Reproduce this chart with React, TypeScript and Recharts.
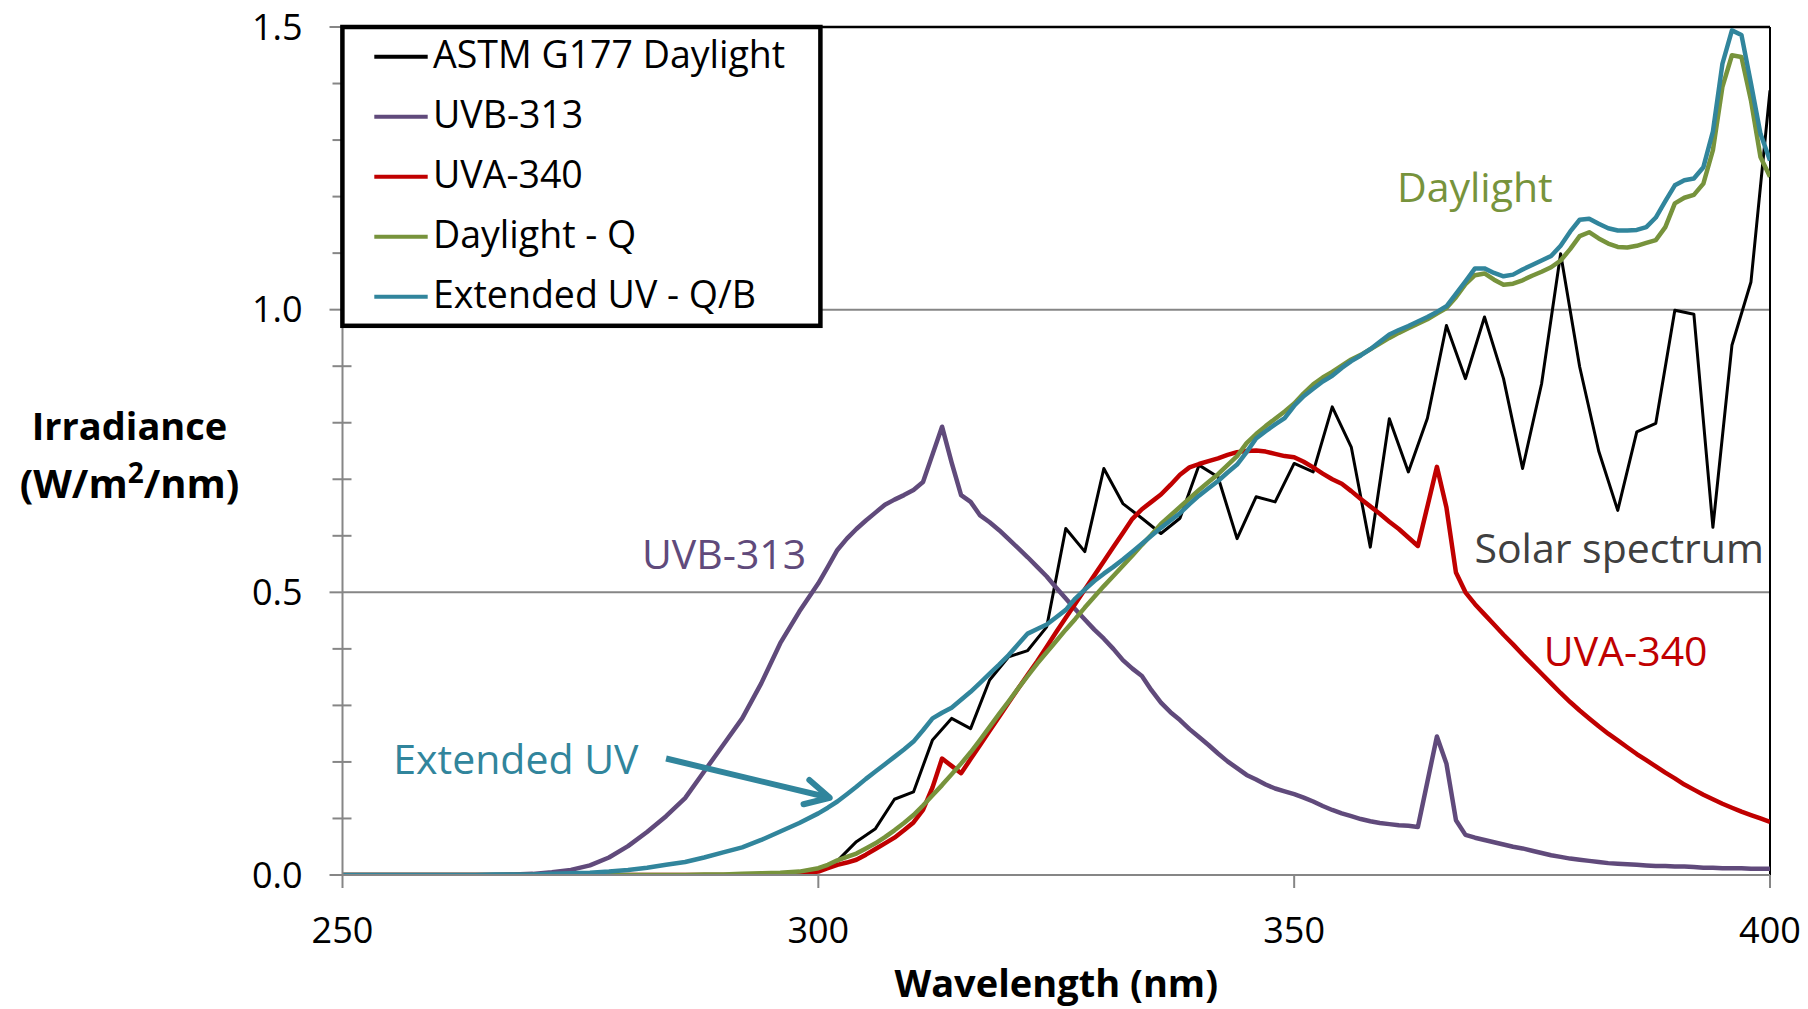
import React from 'react';
import { LineChart, Line, XAxis, YAxis, ReferenceLine, ReferenceDot, Legend, Label } from 'recharts';

const FONT = "'Open Sans', 'DejaVu Sans', sans-serif";
const AXIS_GRAY = '#868686';

// ---------- data ----------
const solarNm = [
  250, 252, 254, 256, 258, 260, 262, 264, 266, 268, 270, 272, 274, 276, 278, 280, 282, 284, 286, 288, 290, 292,
  294, 296, 298, 300, 302, 304, 306, 308, 310, 312, 314, 316, 318, 320, 322, 324, 326, 328, 330, 332, 334, 336,
  338, 340, 342, 344, 346, 348, 350, 352, 354, 356, 358, 360, 362, 364, 366, 368, 370, 372, 374, 376, 378, 380,
  382, 384, 386, 388, 390, 392, 394, 396, 398, 400,
];
const astmG177 = [
  0, 0, 0, 0, 0, 0, 0, 0, 0, 0, 0, 0, 0, 0, 0, 0, 0, 0, 0, 0, 0, 0,
  0, 0.001, 0.004, 0.010, 0.025, 0.059, 0.082, 0.134, 0.147, 0.239, 0.277, 0.259, 0.345, 0.386, 0.397, 0.439,
  0.613, 0.572, 0.719, 0.657, 0.631, 0.604, 0.631, 0.725, 0.704, 0.595, 0.669, 0.660, 0.728, 0.713, 0.828, 0.757,
  0.580, 0.807, 0.713, 0.808, 0.972, 0.878, 0.987, 0.878, 0.719, 0.869, 1.099, 0.899, 0.750, 0.645, 0.784, 0.799,
  0.999, 0.992, 0.615, 0.937, 1.049, 1.388,
];

const lampNm = [
  250, 252, 254, 256, 258, 260, 262, 264, 266, 268, 270, 272, 274, 276, 278, 280, 282, 284, 286, 288, 290, 292, 294, 296, 298, 300,
  301, 302, 303, 304, 305, 306, 307, 308, 309, 310,
  311, 312, 313, 314, 315, 316, 317, 318, 319, 320,
  321, 322, 323, 324, 325, 326, 327, 328, 329, 330,
  331, 332, 333, 334, 335, 336, 337, 338, 339, 340,
  341, 342, 343, 344, 345, 346, 347, 348, 349, 350,
  351, 352, 353, 354, 355, 356, 357, 358, 359, 360,
  361, 362, 363, 364, 365, 366, 367, 368, 369, 370,
  371, 372, 373, 374, 375, 376, 377, 378, 379, 380,
  381, 382, 383, 384, 385, 386, 387, 388, 389, 390,
  391, 392, 393, 394, 395, 396, 397, 398, 399, 400,
];
const uvb313 = [
  0, 0, 0, 0, 0, 0, 0, 0, 0, 0.001, 0.002, 0.005, 0.009, 0.017, 0.031, 0.051, 0.076, 0.104, 0.136, 0.183, 0.230, 0.277, 0.339, 0.410, 0.466, 0.516,
  0.545, 0.575, 0.595, 0.612, 0.627, 0.641, 0.655, 0.664, 0.672, 0.681,
  0.695, 0.744, 0.793, 0.730, 0.672, 0.660, 0.636, 0.624, 0.610, 0.594,
  0.578, 0.562, 0.545, 0.528, 0.508, 0.489, 0.470, 0.452, 0.434, 0.418,
  0.400, 0.380, 0.365, 0.352, 0.327, 0.305, 0.288, 0.274, 0.258, 0.244,
  0.230, 0.215, 0.201, 0.189, 0.177, 0.169, 0.160, 0.153, 0.148, 0.143,
  0.137, 0.130, 0.122, 0.115, 0.109, 0.104, 0.099, 0.095, 0.092, 0.090,
  0.088, 0.087, 0.085, 0.165, 0.245, 0.197, 0.097, 0.071, 0.066, 0.062,
  0.058, 0.054, 0.050, 0.047, 0.043, 0.039, 0.035, 0.032, 0.029, 0.027,
  0.025, 0.023, 0.021, 0.020, 0.019, 0.018, 0.017, 0.016, 0.016, 0.015,
  0.015, 0.014, 0.013, 0.013, 0.012, 0.012, 0.012, 0.011, 0.011, 0.011,
];
const uva340 = [
  0, 0, 0, 0, 0, 0, 0, 0, 0, 0, 0, 0, 0, 0, 0, 0, 0, 0, 0, 0, 0, 0, 0, 0, 0.002, 0.006,
  0.012, 0.018, 0.022, 0.027, 0.036, 0.046, 0.056, 0.066, 0.079, 0.093,
  0.115, 0.155, 0.206, 0.193, 0.180, 0.205, 0.230, 0.255, 0.280, 0.305,
  0.330, 0.354, 0.378, 0.404, 0.430, 0.455, 0.480, 0.505, 0.530, 0.555,
  0.580, 0.605, 0.630, 0.647, 0.660, 0.673, 0.690, 0.708, 0.721, 0.727,
  0.732, 0.737, 0.743, 0.748, 0.750, 0.751, 0.749, 0.745, 0.741, 0.739,
  0.731, 0.721, 0.710, 0.700, 0.692, 0.679, 0.665, 0.652, 0.639, 0.625,
  0.612, 0.597, 0.582, 0.652, 0.722, 0.650, 0.535, 0.500, 0.479, 0.461,
  0.443, 0.425, 0.408, 0.390, 0.373, 0.356, 0.339, 0.322, 0.306, 0.291,
  0.277, 0.263, 0.250, 0.238, 0.226, 0.214, 0.203, 0.192, 0.181, 0.171,
  0.160, 0.151, 0.142, 0.134, 0.126, 0.119, 0.112, 0.106, 0.100, 0.094,
];
const daylightQ = [
  0, 0, 0, 0, 0, 0, 0, 0, 0, 0, 0, 0, 0, 0, 0, 0, 0, 0, 0, 0.001, 0.001, 0.002, 0.003, 0.004, 0.006, 0.012,
  0.018, 0.026, 0.032, 0.038, 0.047, 0.056, 0.067, 0.079, 0.092, 0.106,
  0.123, 0.141, 0.159, 0.178, 0.197, 0.217, 0.239, 0.262, 0.285, 0.307,
  0.330, 0.352, 0.374, 0.394, 0.414, 0.434, 0.453, 0.473, 0.492, 0.511,
  0.529, 0.547, 0.565, 0.584, 0.602, 0.621, 0.636, 0.651, 0.666, 0.681,
  0.695, 0.709, 0.725, 0.741, 0.764, 0.780, 0.794, 0.807, 0.820, 0.834,
  0.852, 0.868, 0.880, 0.890, 0.901, 0.912, 0.920, 0.930, 0.940, 0.950,
  0.959, 0.967, 0.975, 0.983, 0.993, 1.003, 1.022, 1.045, 1.061, 1.064,
  1.053, 1.044, 1.046, 1.052, 1.060, 1.067, 1.075, 1.087, 1.107, 1.130,
  1.137, 1.126, 1.117, 1.111, 1.110, 1.113, 1.118, 1.123, 1.146, 1.188,
  1.198, 1.203, 1.223, 1.282, 1.394, 1.450, 1.447, 1.370, 1.270, 1.235,
];
const extendedUV = [
  0, 0, 0, 0, 0, 0, 0, 0, 0.001, 0.001, 0.001, 0.002, 0.003, 0.004, 0.006, 0.009, 0.013, 0.018, 0.023, 0.031, 0.040, 0.049, 0.062, 0.077, 0.092, 0.109,
  0.119, 0.130, 0.143, 0.156, 0.170, 0.183, 0.196, 0.209, 0.222, 0.236,
  0.256, 0.277, 0.287, 0.296, 0.310, 0.324, 0.340, 0.356, 0.372, 0.389,
  0.408, 0.427, 0.435, 0.443, 0.456, 0.469, 0.489, 0.505, 0.520, 0.533,
  0.545, 0.558, 0.572, 0.586, 0.600, 0.614, 0.627, 0.640, 0.656, 0.671,
  0.684, 0.697, 0.712, 0.726, 0.748, 0.772, 0.785, 0.797, 0.808, 0.830,
  0.847, 0.860, 0.873, 0.883, 0.897, 0.909, 0.919, 0.930, 0.943, 0.956,
  0.964, 0.971, 0.979, 0.987, 0.996, 1.006, 1.028, 1.050, 1.073, 1.073,
  1.065, 1.059, 1.062, 1.071, 1.079, 1.087, 1.095, 1.113, 1.138, 1.159,
  1.161, 1.152, 1.144, 1.140, 1.140, 1.141, 1.146, 1.163, 1.192, 1.220,
  1.229, 1.232, 1.252, 1.315, 1.435, 1.494, 1.486, 1.400, 1.311, 1.264,
];

const xTicks = [250, 300, 350, 400];
const yTicks = [0, 0.1, 0.2, 0.3, 0.4, 0.5, 0.6, 0.7, 0.8, 0.9, 1.0, 1.1, 1.2, 1.3, 1.4, 1.5];
const gridValues = [0.5, 1.0];

const seriesNames = ['ASTM G177 Daylight', 'UVB-313', 'UVA-340', 'Daylight - Q', 'Extended UV - Q/B'];
const seriesColors = ['#000000', '#604A7B', '#C00000', '#77933C', '#31859C'];
const seriesWidths = [3, 4.5, 4.5, 4.5, 4.5];

const annotations = [
  { text: 'Daylight', nm: 360.8, v: 1.19, color: '#77933C' },
  { text: 'Solar spectrum', nm: 368.94, v: 0.552, color: '#404040' },
  { text: 'UVA-340', nm: 376.23, v: 0.3695, color: '#C00000' },
  { text: 'UVB-313', nm: 281.46, v: 0.542, color: '#604A7B' },
  { text: 'Extended UV', nm: 255.34, v: 0.1786, color: '#31859C' },
];
const arrowFrom = { x: 284.0, y: 0.206 };
const arrowTo = { x: 301.2, y: 0.1367 };

// ---------- tables ----------
const solarData = solarNm.map((nm, i) => ({ nm, v: astmG177[i] }));
const lampData = lampNm.map((nm, i) => ({
  nm,
  uvb: uvb313[i],
  uva: uva340[i],
  day: daylightQ[i],
  ext: extendedUV[i],
}));

// ---------- axis pieces ----------
const Y_TICK_SIZE = 13;
const Y_TICK_MARGIN = 27;

const YTick = (props: any) => {
  const { x, y, payload } = props;
  const v = Number(payload.value);
  const major = Math.abs(v * 2 - Math.round(v * 2)) < 1e-6;
  const ax = x + Y_TICK_SIZE + Y_TICK_MARGIN;
  return (
    <g>
      {major ? (
        <line x1={ax - 13} x2={ax} y1={y} y2={y} stroke={AXIS_GRAY} strokeWidth={2} />
      ) : (
        <line x1={ax - 10} x2={ax + 9} y1={y} y2={y} stroke={AXIS_GRAY} strokeWidth={2} />
      )}
      {major && (
        <text x={x} y={y + 12.5} textAnchor="end" fontSize={36} fontFamily={FONT} fill="#000">
          {v.toFixed(1)}
        </text>
      )}
    </g>
  );
};

const XTick = (props: any) => {
  const { x, y, payload } = props;
  return (
    <g>
      <line x1={x} x2={x} y1={y - 13} y2={y} stroke={AXIS_GRAY} strokeWidth={2} />
      <text x={x} y={y + 55} textAnchor="middle" fontSize={36} fontFamily={FONT} fill="#000">
        {payload.value}
      </text>
    </g>
  );
};

const YTitle = (props: any) => {
  const vb = props.viewBox || { x: 0, y: 27, width: 342, height: 848 };
  const cx = vb.x + 129.5;
  const cy = vb.y + vb.height / 2;
  return (
    <g fontFamily={FONT} fontWeight={700} fill="#000">
      <text x={cx} y={cy - 11} textAnchor="middle" fontSize={38}>Irradiance</text>
      <text x={cx} y={cy + 47} textAnchor="middle" fontSize={40}>
        (W/m<tspan dy={-15} fontSize={28}>2</tspan>
        <tspan dy={15}>/nm)</tspan>
      </text>
    </g>
  );
};

const XTitle = (props: any) => {
  const vb = props.viewBox || { x: 342, y: 875, width: 1428, height: 134 };
  return (
    <text
      x={vb.x + vb.width / 2}
      y={vb.y + 122}
      textAnchor="middle"
      fontFamily={FONT}
      fontWeight={700}
      fontSize={38}
      fill="#000"
    >
      Wavelength (nm)
    </text>
  );
};

const AnnotText = (props: any) => {
  const { viewBox, text, color } = props;
  if (!viewBox) return null;
  return (
    <text x={viewBox.x} y={viewBox.y} fontFamily={FONT} fontSize={41} fill={color}>
      {text}
    </text>
  );
};

const ArrowShape = (props: any) => {
  const { x1, y1, x2, y2 } = props;
  if ([x1, y1, x2, y2].some((n) => typeof n !== 'number' || isNaN(n))) return null;
  const ang = Math.atan2(y2 - y1, x2 - x1);
  const L = 27;
  const a = 0.48;
  const w1x = x2 - L * Math.cos(ang - a);
  const w1y = y2 - L * Math.sin(ang - a);
  const w2x = x2 - L * Math.cos(ang + a);
  const w2y = y2 - L * Math.sin(ang + a);
  return (
    <g stroke="#31859C" strokeWidth={6} fill="none" strokeLinecap="round" strokeLinejoin="round">
      <line x1={x1} y1={y1} x2={x2} y2={y2} strokeLinecap="butt" />
      <polyline points={`${w1x},${w1y} ${x2},${y2} ${w2x},${w2y}`} />
    </g>
  );
};

const LegendBox = () => (
  <svg width={488} height={308} style={{ display: 'block' }}>
    <rect x={4.4} y={4} width={478} height={298.8} fill="#fff" stroke="#000" strokeWidth={4.5} />
    {seriesNames.map((name, i) => (
      <g key={name}>
        <line
          x1={36.3}
          x2={89.7}
          y1={33.7 + i * 60}
          y2={33.7 + i * 60}
          stroke={seriesColors[i]}
          strokeWidth={4}
        />
        <text x={95} y={45.3 + i * 60} fontFamily={FONT} fontSize={37.5} fill="#000">
          {name}
        </text>
      </g>
    ))}
  </svg>
);

export default function App() {
  return (
    <div style={{ position: 'absolute', left: 0, top: 0, width: 1808, height: 1009, background: '#fff' }}>
      <LineChart
        width={1808}
        height={1009}
        data={lampData}
        margin={{ top: 27, right: 38, bottom: 0, left: 0 }}
      >
        <XAxis
          dataKey="nm"
          type="number"
          domain={[250, 400]}
          ticks={xTicks}
          interval={0}
          height={134}
          axisLine={{ stroke: AXIS_GRAY, strokeWidth: 2 }}
          tickLine={false}
          tickSize={13}
          tickMargin={0}
          tick={<XTick />}
          allowDataOverflow
        >
          <Label content={<XTitle />} />
        </XAxis>
        <YAxis
          type="number"
          domain={[0, 1.5]}
          ticks={yTicks}
          interval={0}
          width={342.5}
          axisLine={{ stroke: AXIS_GRAY, strokeWidth: 2 }}
          tickLine={false}
          tickSize={Y_TICK_SIZE}
          tickMargin={Y_TICK_MARGIN}
          tick={<YTick />}
          allowDataOverflow
        >
          <Label content={<YTitle />} />
        </YAxis>
        {gridValues.map((g) => (
          <ReferenceLine key={g} y={g} stroke={AXIS_GRAY} strokeWidth={2} />
        ))}
        <ReferenceLine y={1.5} stroke="#000" strokeWidth={2.5} />
        <ReferenceLine x={400} stroke="#000" strokeWidth={2} />

        <Line
          data={solarData}
          dataKey="v"
          name={seriesNames[0]}
          type="linear"
          stroke={seriesColors[0]}
          strokeWidth={seriesWidths[0]}
          strokeLinejoin="round"
          dot={false}
          activeDot={false}
          isAnimationActive={false}
        />
        <Line
          dataKey="uvb"
          name={seriesNames[1]}
          type="linear"
          stroke={seriesColors[1]}
          strokeWidth={seriesWidths[1]}
          strokeLinejoin="round"
          dot={false}
          activeDot={false}
          isAnimationActive={false}
        />
        <Line
          dataKey="uva"
          name={seriesNames[2]}
          type="linear"
          stroke={seriesColors[2]}
          strokeWidth={seriesWidths[2]}
          strokeLinejoin="round"
          dot={false}
          activeDot={false}
          isAnimationActive={false}
        />
        <Line
          dataKey="day"
          name={seriesNames[3]}
          type="linear"
          stroke={seriesColors[3]}
          strokeWidth={seriesWidths[3]}
          strokeLinejoin="round"
          dot={false}
          activeDot={false}
          isAnimationActive={false}
        />
        <Line
          dataKey="ext"
          name={seriesNames[4]}
          type="linear"
          stroke={seriesColors[4]}
          strokeWidth={seriesWidths[4]}
          strokeLinejoin="round"
          dot={false}
          activeDot={false}
          isAnimationActive={false}
        />

        {annotations.map((a) => (
          <ReferenceDot
            key={a.text}
            x={a.nm}
            y={a.v}
            r={0}
            fill="none"
            stroke="none"
            label={<AnnotText text={a.text} color={a.color} />}
          />
        ))}
        <ReferenceLine segment={[arrowFrom, arrowTo]} shape={<ArrowShape />} />

        <Legend
          layout="vertical"
          align="center"
          verticalAlign="middle"
          content={() => <LegendBox />}
          wrapperStyle={{ left: 338, top: 23, width: 488, height: 308, margin: 0, padding: 0 }}
        />
      </LineChart>
    </div>
  );
}
